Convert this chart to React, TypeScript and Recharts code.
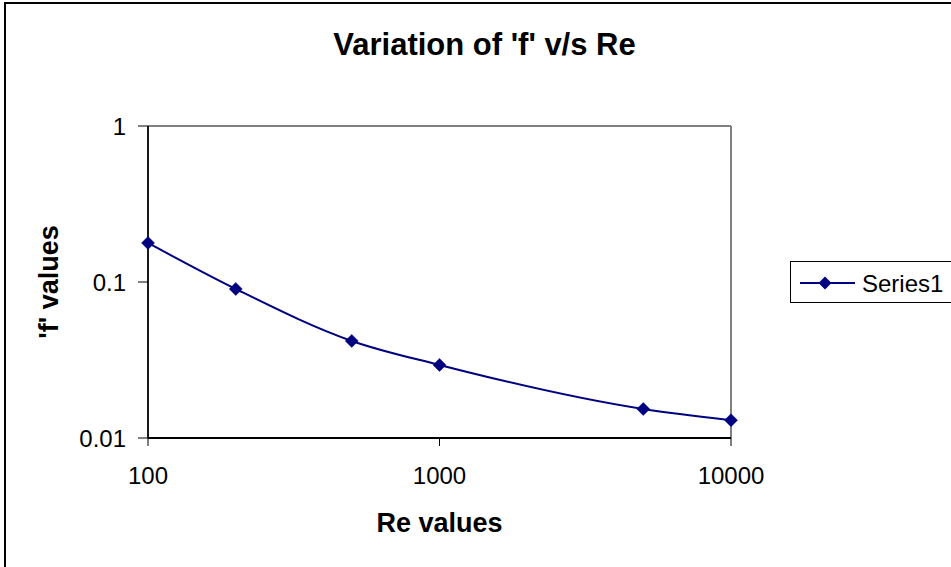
import React from 'react';
import { LineChart, Line, XAxis, YAxis, Legend, ReferenceLine } from 'recharts';

const reValues = [100, 200, 500, 1000, 5000, 10000];
const fValues = [0.178, 0.0902, 0.0419, 0.0294, 0.01535, 0.0130];
const xTicks = [100, 1000, 10000];
const yTicks = [0.01, 0.1, 1];
const seriesName = 'Series1';
const chartTitle = "Variation of 'f' v/s Re";
const xTitle = 'Re values';
const yTitle = "'f' values";

const data = reValues.map((re, i) => ({ re, f: fValues[i] }));

const NAVY = '#000080';
const FONT = '"Liberation Sans", Arial, sans-serif';

const Diamond = (props: any) => {
  const { cx, cy, index } = props;
  if (cx == null || cy == null) return null;
  const r = 6.5;
  return (
    <path
      key={`d-${index}`}
      d={`M${cx} ${cy - r}L${cx + r} ${cy}L${cx} ${cy + r}L${cx - r} ${cy}Z`}
      fill={NAVY}
      stroke={NAVY}
      strokeWidth={0.5}
    />
  );
};

const LegendContent = (props: any) => {
  const item = props.payload && props.payload[0];
  const label = item ? item.value : seriesName;
  const color = item ? item.color : NAVY;
  return (
    <div
      style={{
        width: 200,
        height: 42,
        border: '1px solid #000',
        boxSizing: 'border-box',
        background: '#fff',
        position: 'relative',
      }}
    >
      <svg width={200} height={42} style={{ position: 'absolute', left: -1, top: -1 }}>
        <line x1={10} x2={65} y1={22} y2={22} stroke={color} strokeWidth={2} />
        <path d="M35 15.5L41.5 22L35 28.5L28.5 22Z" fill={color} />
        <text x={72} y={22} dominantBaseline="central" fontSize={24} fill="#000" fontFamily={FONT}>
          {label}
        </text>
      </svg>
    </div>
  );
};

const YTitle = (props: any) => {
  const vb = props.viewBox || { x: 0, y: 126, width: 148, height: 312 };
  const cx = vb.x + 49;
  const cy = vb.y + vb.height / 2;
  return (
    <text
      x={cx}
      y={cy}
      transform={`rotate(-90 ${cx} ${cy})`}
      textAnchor="middle"
      dominantBaseline="central"
      fontSize={27}
      fontWeight="bold"
      fill="#000"
      fontFamily={FONT}
    >
      {yTitle}
    </text>
  );
};

export default function App() {
  return (
    <div
      style={{
        position: 'absolute',
        left: 0,
        top: 0,
        width: 951,
        height: 567,
        overflow: 'hidden',
        background: '#fff',
        fontFamily: FONT,
      }}
    >
      <div
        style={{
          position: 'absolute',
          left: 4,
          top: 2,
          width: 2000,
          height: 2000,
          borderLeft: '2px solid #000',
          borderTop: '2px solid #000',
        }}
      />
      <LineChart
        width={951}
        height={567}
        data={data}
        margin={{ top: 126, right: 220, bottom: 0, left: 0 }}
        style={{ position: 'absolute', left: 0, top: 0, fontFamily: FONT }}
      >
        <ReferenceLine y={1} stroke="#808080" strokeWidth={2} />
        <ReferenceLine x={10000} stroke="#808080" strokeWidth={2} />
        <XAxis
          dataKey="re"
          type="number"
          scale="log"
          domain={[100, 10000]}
          ticks={xTicks}
          interval={0}
          height={129}
          tickSize={8}
          tickMargin={21}
          axisLine={{ stroke: '#000', strokeWidth: 2 }}
          tickLine={{ stroke: '#000', strokeWidth: 1 }}
          tick={{ fill: '#000', fontSize: 24, fontFamily: FONT }}
          label={{
            value: xTitle,
            position: 'insideBottom',
            offset: 35,
            fontSize: 27,
            fontWeight: 'bold',
            fill: '#000',
            fontFamily: FONT,
          }}
        />
        <YAxis
          dataKey="f"
          type="number"
          scale="log"
          domain={[0.01, 1]}
          ticks={yTicks}
          interval={0}
          width={148}
          tickSize={10}
          tickMargin={12}
          axisLine={{ stroke: '#1a1a1a', strokeWidth: 2 }}
          tickLine={{ stroke: '#000', strokeWidth: 1 }}
          tick={{ fill: '#000', fontSize: 24, fontFamily: FONT }}
          label={{ content: <YTitle /> }}
        />
        <Legend
          layout="vertical"
          align="center"
          verticalAlign="middle"
          content={<LegendContent />}
          wrapperStyle={{ left: 790, top: 261, width: 200, height: 42 }}
        />
        <Line
          type="monotone"
          dataKey="f"
          name={seriesName}
          stroke={NAVY}
          strokeWidth={2}
          dot={<Diamond />}
          activeDot={false}
          isAnimationActive={false}
        />
      </LineChart>
      <svg
        width={951}
        height={567}
        style={{ position: 'absolute', left: 0, top: 0, pointerEvents: 'none' }}
      >
        <text
          x={484.5}
          y={55}
          textAnchor="middle"
          fontSize={31}
          fontWeight="bold"
          fill="#000"
          fontFamily={FONT}
        >
          {chartTitle}
        </text>
      </svg>
    </div>
  );
}
